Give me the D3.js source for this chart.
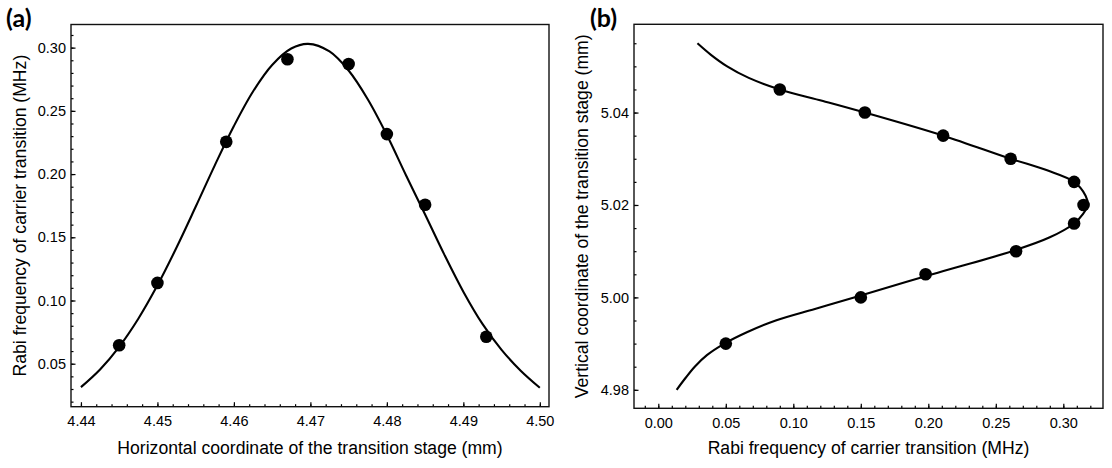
<!DOCTYPE html>
<html>
<head>
<meta charset="utf-8">
<script src="https://cdn.jsdelivr.net/npm/d3@7"></script>
<style>
  body { margin: 0; background: #fff; }
  svg { display: block; font-family: "Liberation Sans", Arial, sans-serif; }
  .tick text { font-family: "Liberation Sans", Arial, sans-serif; font-size: 14.5px; fill: #000; }
  .title { font-size: 17.6px; fill: #000; }
  .panel { font-family: Lato, "Open Sans", sans-serif; font-weight: 700; font-size: 25px; }
</style>
</head>
<body>
<svg id="chart" width="1112" height="468"></svg>
<script>
// panel (a): Rabi frequency vs horizontal position
var aPosX   = [4.445, 4.450, 4.459, 4.467, 4.475, 4.480, 4.485, 4.493];
var aRabi   = [0.0646, 0.1139, 0.2255, 0.2908, 0.2871, 0.2316, 0.1757, 0.0713];
// fitted curve
var aFitX = [4.4400, 4.4425, 4.4450, 4.4475, 4.4500, 4.4525, 4.4550, 4.4575, 4.4600, 4.4625,
             4.4650, 4.4675, 4.4697, 4.4725, 4.4750, 4.4775, 4.4800, 4.4825, 4.4850, 4.4875,
             4.4900, 4.4925, 4.4950, 4.4975, 4.5000];
var aFitY = [0.0315, 0.0455, 0.0634, 0.0856, 0.1120, 0.1419, 0.1741, 0.2069, 0.2380, 0.2653,
             0.2863, 0.2993, 0.3030, 0.2970, 0.2819, 0.2592, 0.2309, 0.1991, 0.1680, 0.1365,
             0.1070, 0.0815, 0.0610, 0.0445, 0.0310];
var aXTicks = [4.44, 4.45, 4.46, 4.47, 4.48, 4.49, 4.50];
var aYTicks = [0.05, 0.10, 0.15, 0.20, 0.25, 0.30];

// panel (b): vertical position vs Rabi frequency
var bRabi = [0.050, 0.150, 0.198, 0.265, 0.308, 0.315, 0.308, 0.261, 0.211, 0.153, 0.090];
var bPosZ = [4.990, 5.000, 5.005, 5.010, 5.016, 5.020, 5.025, 5.030, 5.035, 5.040, 5.045];
// fitted curve
var bFitZ = [4.9800, 4.9825, 4.9850, 4.9875, 4.9900, 4.9925, 4.9950, 4.9975, 5.0000, 5.0050,
             5.0100, 5.0130, 5.0160, 5.0180, 5.0200, 5.0220, 5.0250, 5.0275, 5.0300, 5.0350,
             5.0400, 5.0425, 5.0450, 5.0475, 5.0500, 5.0525, 5.0550];
var bFitF = [0.0136, 0.0200, 0.0270, 0.0360, 0.0490, 0.0660, 0.0870, 0.1160, 0.1450, 0.2030,
             0.2620, 0.2900, 0.3080, 0.3145, 0.3180, 0.3165, 0.3080, 0.2880, 0.2610, 0.2110,
             0.1530, 0.1220, 0.0900, 0.0670, 0.0510, 0.0390, 0.0290];
var bXTicks = [0.00, 0.05, 0.10, 0.15, 0.20, 0.25, 0.30];
var bYTicks = [4.98, 5.00, 5.02, 5.04];

var svg = d3.select("#chart");

function drawPanel(opt) {
    var g = svg.append("g");

    var x = d3.scaleLinear().domain(opt.xDomain).range([opt.left, opt.right]);
    var y = d3.scaleLinear().domain(opt.yDomain).range([opt.bottom, opt.top]);

    // minor ticks first, no labels
    g.append("g")
        .attr("transform", "translate(0," + opt.bottom + ")")
        .call(d3.axisBottom(x).tickValues(opt.xMinor).tickSize(-2.5).tickFormat(""));
    g.append("g")
        .attr("transform", "translate(" + opt.left + ",0)")
        .call(d3.axisLeft(y).tickValues(opt.yMinor).tickSize(-2.5).tickFormat(""));

    // major ticks, pointing inward
    g.append("g")
        .attr("transform", "translate(0," + opt.bottom + ")")
        .call(d3.axisBottom(x).tickValues(opt.xTicks).tickSize(-4.5).tickPadding(9)
            .tickFormat(d3.format(opt.xFormat)));
    g.append("g")
        .attr("transform", "translate(" + opt.left + ",0)")
        .call(d3.axisLeft(y).tickValues(opt.yTicks).tickSize(-4.5).tickPadding(5)
            .tickFormat(d3.format(opt.yFormat)));

    g.selectAll(".domain").remove();
    g.selectAll(".tick line").attr("stroke", "#000").attr("stroke-width", 1.2);

    // frame
    g.append("rect")
        .attr("x", opt.left).attr("y", opt.top)
        .attr("width", opt.right - opt.left).attr("height", opt.bottom - opt.top)
        .attr("fill", "none").attr("stroke", "#111").attr("stroke-width", 1.4);

    // fit curve
    var line = d3.line()
        .x(function(d) { return x(d[0]); })
        .y(function(d) { return y(d[1]); })
        .curve(d3.curveCatmullRom);
    g.append("path")
        .datum(opt.fit)
        .attr("d", line)
        .attr("fill", "none")
        .attr("stroke", "#000")
        .attr("stroke-width", 2.1);

    // measured points
    g.selectAll("circle.pt")
        .data(opt.points)
        .enter()
        .append("circle")
        .attr("class", "pt")
        .attr("cx", function(d) { return x(d[0]); })
        .attr("cy", function(d) { return y(d[1]); })
        .attr("r", 6.3)
        .attr("fill", "#000");

    // axis titles
    g.append("text")
        .attr("class", "title")
        .attr("x", (opt.left + opt.right) / 2)
        .attr("y", 454)
        .attr("text-anchor", "middle")
        .text(opt.xTitle);
    g.append("text")
        .attr("class", "title")
        .attr("transform", "translate(" + opt.yTitleX + "," + (opt.top + opt.bottom) / 2 + ") rotate(-90)")
        .attr("text-anchor", "middle")
        .text(opt.yTitle);

    g.append("text")
        .attr("class", "panel")
        .attr("x", opt.labelX)
        .attr("y", 27)
        .text(opt.label);
}

function zip(a, b) {
    return a.map(function(v, i) { return [v, b[i]]; });
}

drawPanel({
    left: 71, right: 549, top: 24.5, bottom: 406.7,
    xDomain: [4.4387, 4.5012], yDomain: [0.016, 0.3183],
    xTicks: aXTicks, yTicks: aYTicks,
    xMinor: d3.range(4.440, 4.5005, 0.002), yMinor: d3.range(0.02, 0.3155, 0.01),
    xFormat: ".2f", yFormat: ".2f",
    fit: zip(aFitX, aFitY),
    points: zip(aPosX, aRabi),
    xTitle: "Horizontal coordinate of the transition stage (mm)",
    yTitle: "Rabi frequency of carrier transition (MHz)",
    yTitleX: 25.5,
    label: "(a)", labelX: 6
});

drawPanel({
    left: 634, right: 1103, top: 24.3, bottom: 408.3,
    xDomain: [-0.018, 0.3294], yDomain: [4.976, 5.0591],
    xTicks: bXTicks, yTicks: bYTicks,
    xMinor: d3.range(-0.01, 0.3255, 0.01), yMinor: d3.range(4.980, 5.0575, 0.005),
    xFormat: ".2f", yFormat: ".2f",
    fit: zip(bFitF, bFitZ),
    points: zip(bRabi, bPosZ),
    xTitle: "Rabi frequency of carrier transition (MHz)",
    yTitle: "Vertical coordinate of the transition stage (mm)",
    yTitleX: 588,
    label: "(b)", labelX: 590
});
</script>
</body>
</html>
